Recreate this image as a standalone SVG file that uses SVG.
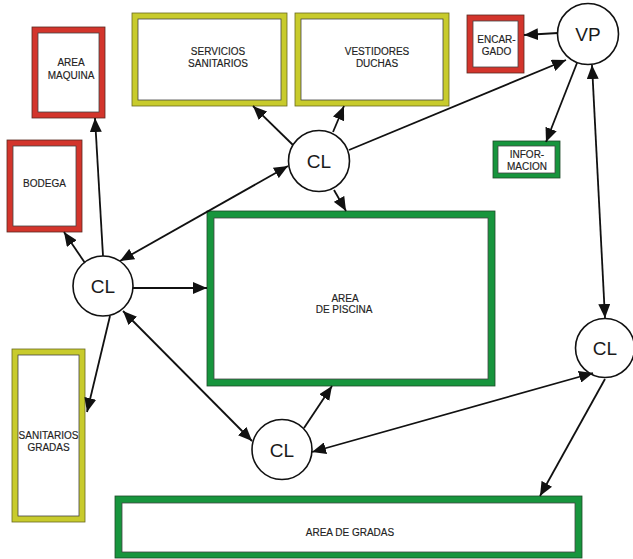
<svg xmlns="http://www.w3.org/2000/svg" width="633" height="559" viewBox="0 0 633 559">
<style>
.red{fill:#d3352c;stroke:#5a2a22;stroke-width:0.8}
.yel{fill:#c8cb2c;stroke:#6a6a20;stroke-width:0.8}
.grn{fill:#17953d;stroke:#1f4a2a;stroke-width:0.8}
.in{fill:#fff;stroke:#444;stroke-width:0.8}
.t{font-family:"Liberation Sans",Arial,sans-serif;font-size:10px;fill:#222;stroke:#222;stroke-width:0.15;text-anchor:middle}
.c{fill:#fff;stroke:#111;stroke-width:1.6}
.ct{font-family:"Liberation Sans",Arial,sans-serif;font-size:19px;fill:#1a1a1a;text-anchor:middle}
.e line{stroke:#111;stroke-width:1.8;marker-end:url(#ah)}
.e line.b{marker-start:url(#ah)}
</style>
<defs>
<marker id="ah" markerUnits="userSpaceOnUse" markerWidth="14" markerHeight="12" refX="14" refY="6" orient="auto-start-reverse" viewBox="0 0 14 12">
<path d="M0,0 L14,6 L0,12 z" fill="#111"/>
</marker>
</defs>
<rect width="633" height="559" fill="#fff"/>
<g id="area-maquina"><rect class="red" x="32" y="27" width="73" height="91"/><rect class="in" x="38" y="33" width="61" height="79"/><text class="t" x="71" y="66">AREA</text><text class="t" x="71" y="79">MAQUINA</text></g>
<g id="bodega"><rect class="red" x="7" y="140" width="75" height="92"/><rect class="in" x="13" y="146" width="63" height="80"/><text class="t" x="44.5" y="187">BODEGA</text></g>
<g id="servicios-sanitarios"><rect class="yel" x="132" y="13" width="155" height="93"/><rect class="in" x="138" y="19" width="143" height="81"/><text class="t" x="218" y="55">SERVICIOS</text><text class="t" x="218" y="67">SANITARIOS</text></g>
<g id="vestidores-duchas"><rect class="yel" x="295" y="13" width="154" height="93"/><rect class="in" x="301" y="19" width="142" height="81"/><text class="t" x="377" y="55">VESTIDORES</text><text class="t" x="377" y="67">DUCHAS</text></g>
<g id="encargado"><rect class="red" x="467" y="15" width="57" height="58"/><rect class="in" x="473" y="21" width="45" height="46"/><text class="t" x="496.5" y="43">ENCAR-</text><text class="t" x="496.5" y="55">GADO</text></g>
<g id="informacion"><rect class="grn" x="493" y="141" width="67" height="37"/><rect class="in" x="498" y="146" width="57" height="27"/><text class="t" x="527" y="158">INFOR-</text><text class="t" x="527" y="170">MACION</text></g>
<g id="area-piscina"><rect class="grn" x="207" y="211" width="288" height="175"/><rect class="in" x="214" y="218" width="274" height="161"/><text class="t" x="345" y="302">AREA</text><text class="t" x="344" y="313">DE PISCINA</text></g>
<g id="sanitarios-gradas"><rect class="yel" x="12" y="349" width="73" height="173"/><rect class="in" x="18" y="355" width="61" height="161"/><text class="t" x="48.5" y="439">SANITARIOS</text><text class="t" x="48.5" y="451">GRADAS</text></g>
<g id="area-gradas"><rect class="grn" x="115" y="496" width="467" height="62"/><rect class="in" x="122" y="503" width="453" height="49"/><text class="t" x="350" y="536">AREA DE GRADAS</text></g>
<g id="vp"><circle class="c" cx="588" cy="34" r="30.5"/><text class="ct" x="588" y="41">VP</text></g>
<g id="cl-top"><circle class="c" cx="319" cy="161" r="30.5"/><text class="ct" x="319" y="168">CL</text></g>
<g id="cl-left"><circle class="c" cx="103" cy="286" r="30"/><text class="ct" x="103" y="293">CL</text></g>
<g id="cl-bottom"><circle class="c" cx="282" cy="449.5" r="30"/><text class="ct" x="282" y="456.5">CL</text></g>
<g id="cl-right"><circle class="c" cx="605" cy="348" r="29.5"/><text class="ct" x="605" y="355">CL</text></g>
<g id="connectors" class="e">
<line x1="103" y1="256" x2="95" y2="118"/>
<line x1="85" y1="263" x2="64" y2="232"/>
<line class="b" x1="120" y1="261" x2="288" y2="166"/>
<line x1="293" y1="145" x2="253" y2="106"/>
<line x1="333" y1="132" x2="344" y2="106"/>
<line x1="334" y1="190" x2="346" y2="211"/>
<line x1="349" y1="150" x2="566" y2="60"/>
<line x1="558" y1="33" x2="524" y2="35"/>
<line x1="577" y1="63" x2="546" y2="142"/>
<line class="b" x1="592" y1="65" x2="605" y2="318"/>
<line x1="133" y1="288" x2="207" y2="288"/>
<line x1="110" y1="316" x2="87" y2="412"/>
<line class="b" x1="123" y1="311" x2="252" y2="441"/>
<line x1="304" y1="428" x2="332" y2="386"/>
<line class="b" x1="312" y1="452" x2="593" y2="373"/>
<line x1="605" y1="379" x2="540" y2="496"/>
</g>
</svg>
